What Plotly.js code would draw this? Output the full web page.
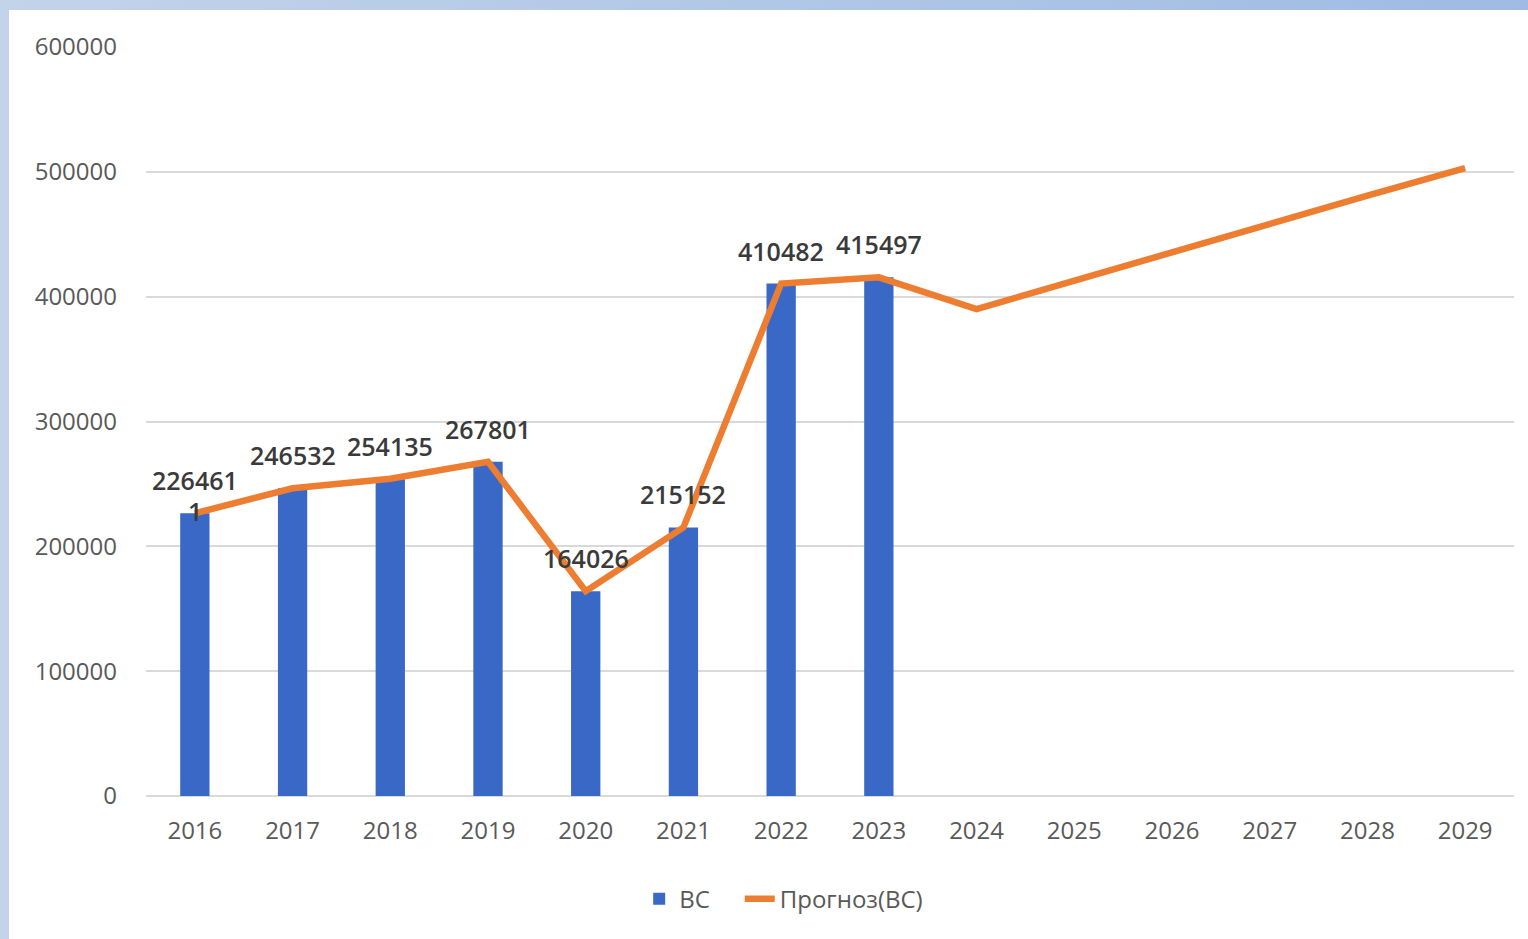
<!DOCTYPE html>
<html>
<head>
<meta charset="utf-8">
<script src="https://cdn.plot.ly/plotly-3.0.1.min.js"></script>
<style>
  html, body { margin: 0; padding: 0; width: 1528px; height: 939px; overflow: hidden;
    background: linear-gradient(to right, #c3d3ea, #9fbbe3); }
  #chart { position: absolute; left: 9px; top: 10px; width: 1519px; height: 929px; background: #fff; }
</style>
</head>
<body>
<div id="chart"></div>
<script>
const years = ['2016','2017','2018','2019','2020','2021','2022','2023','2024','2025','2026','2027','2028','2029'];
const barYears = ['2016','2017','2018','2019','2020','2021','2022','2023'];
const bcValues = [226461, 246532, 254135, 267801, 164026, 215152, 410482, 415497];
const forecastValues = [226461, 246532, 254135, 267801, 164026, 215152, 410482, 415497, 390000, 413000, 436000, 458000, 481000, 503000];
const labelTexts = ['226461', '246532', '254135', '267801', '164026', '215152', '410482', '415497'];
const yTicks = [0, 100000, 200000, 300000, 400000, 500000, 600000];

const labelFont = {family: 'Open Sans, sans-serif', size: 25, color: '#3a3a3a', weight: 600};

// category axis positions are indices; use index of year for annotations
const annotations = barYears.map((yr, i) => ({
  x: years.indexOf(yr), y: forecastValues[i], xref: 'x', yref: 'y',
  text: labelTexts[i], showarrow: false, yshift: 33,
  font: labelFont
}));
annotations.push({
  x: years.indexOf(barYears[0]), y: forecastValues[0], xref: 'x', yref: 'y',
  text: '1', showarrow: false, yshift: 2, font: labelFont
});

const traces = [
  {
    type: 'bar', name: 'ВС\u00a0\u00a0\u00a0\u00a0', x: barYears, y: bcValues,
    marker: {color: '#3a68c6'},
    hoverinfo: 'x+y'
  },
  {
    type: 'scatter', mode: 'lines', name: 'Прогноз(ВС)', x: years, y: forecastValues,
    line: {color: '#ED7D31', width: 6.5},
    hoverinfo: 'x+y'
  }
];

const layout = {
  width: 1519, height: 929,
  margin: {l: 137, r: 14, t: 37, b: 143},
  paper_bgcolor: '#ffffff', plot_bgcolor: '#ffffff',
  bargap: 0.70,
  showlegend: true,
  legend: {
    orientation: 'h', x: 0.51, xanchor: 'center', xref: 'container',
    y: 0.043, yanchor: 'middle', yref: 'container',
    font: {family: 'Open Sans, sans-serif', size: 24, color: '#595959'},
    tracegroupgap: 0
  },
  xaxis: {
    type: 'category', categoryorder: 'array', categoryarray: years,
    range: [-0.5, years.length - 0.5],
    showgrid: false, showline: false, zeroline: false,
    ticks: '', ticklabelstandoff: 18,
    tickfont: {family: 'Open Sans, sans-serif', size: 24, color: '#595959'},
    fixedrange: true
  },
  yaxis: {
    range: [0, 600000], tickvals: yTicks, ticktext: yTicks.map(String),
    showgrid: true, gridcolor: '#d9d9d9', gridwidth: 2,
    zeroline: true, zerolinecolor: '#d9d9d9', zerolinewidth: 2,
    showline: false, ticks: '', ticklabelstandoff: 28,
    tickfont: {family: 'Open Sans, sans-serif', size: 24, color: '#595959'},
    fixedrange: true
  },
  annotations: annotations
};

Plotly.newPlot('chart', traces, layout, {displayModeBar: false, staticPlot: true});
</script>
</body>
</html>
